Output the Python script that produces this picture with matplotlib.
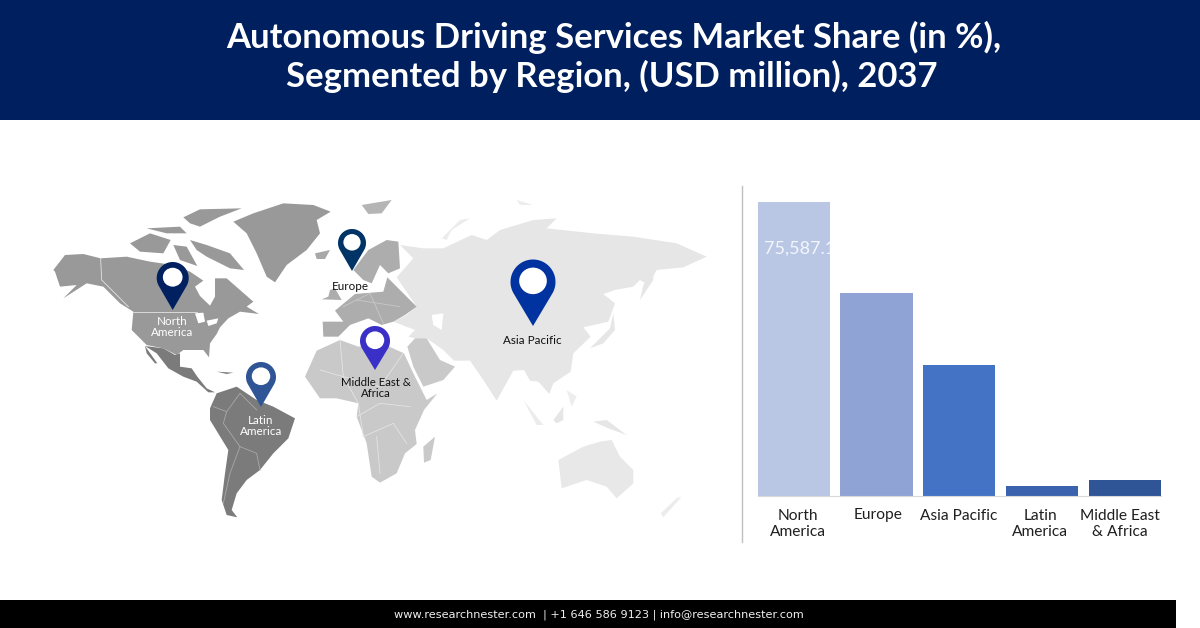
import numpy as np
import matplotlib
matplotlib.use("Agg")
import matplotlib.pyplot as plt
from matplotlib.patches import Polygon, Rectangle, Ellipse
from matplotlib.transforms import ScaledTranslation

plt.rcParams['font.family'] = ['Lato', 'DejaVu Sans']

# ---- data ----
regions = ["North\nAmerica", "Europe", "Asia Pacific", "Latin\nAmerica", "Middle East\n& Africa"]
values = [75587.11, 52190, 33680, 2570, 4110]
bar_colors = ["#b9c6e4", "#8fa3d4", "#4472c4", "#3a62ae", "#2f5597"]
data_label = "75,587.11"
title_line1 = "Autonomous Driving Services Market Share (in %),"
title_line2 = "Segmented by Region, (USD million), 2037"
footer = "www.researchnester.com  | +1 646 586 9123 | info@researchnester.com"

fig = plt.figure(figsize=(12, 6.28), dpi=100, facecolor="white")
bg = fig.add_axes([0, 0, 1, 1], zorder=0)
bg.set_xlim(0, 1200); bg.set_ylim(628, 0); bg.axis("off")

# header and footer
bg.add_patch(Rectangle((0, 0), 1200, 120, color="#001f5f", lw=0))
bg.add_patch(Rectangle((0, 600), 1176, 28, color="#000000", lw=0))
bg.text(614, 37, title_line1, color="white", fontsize=24.9, fontweight="bold", ha="center", va="center")
bg.text(611.5, 76, title_line2, color="white", fontsize=24.9, fontweight="bold", ha="center", va="center")
bg.text(599, 614.5, footer, color="#f0f0f0", fontsize=8.15, family="DejaVu Sans", ha="center", va="center")

# ---- decorative map (outline traced in crop coordinates) ----
def west(pts):
    return [(40 + x / 3, 190 + y / 3) for x, y in pts]
def east(pts):
    return [(300 + x / 3, 190 + y / 3) for x, y in pts]
def shape(pts, color, z=1):
    bg.add_patch(Polygon(pts, closed=True, fc=color, ec="none", zorder=z))
def border(pts, z=2, lw=0.6, color="#e4e4e4"):
    a = np.array(pts)
    bg.plot(a[:, 0], a[:, 1], color=color, lw=lw, zorder=z)

NA = "#999999"; LA = "#7b7b7b"; EU = "#adadad"; AF = "#c9c9c9"; AS = "#e6e6e6"

shape(east([(290,262),(340,205),(300,165),(370,175),(430,175),(515,135),(560,150),(600,120),(700,90),(770,85),(740,115),(880,130),(1000,140),(1130,160),(1220,200),(1150,232),(1070,240),(1045,285),(1020,270),(1000,290),(945,300),(910,312),(945,340),(925,395),(850,412),(872,440),(820,490),(812,545),(760,580),(748,612),(715,575),(690,572),(672,540),(640,542),(590,632),(550,570),(510,512),(462,512),(430,480),(380,445),(345,445),(325,440),(345,420),(280,395),(320,375),(350,350)]), AS)
shape(east([(425,145),(480,90),(510,85),(455,120),(440,150)]), "#ececec")
shape(east([(1020,330),(1030,285),(1060,245),(1060,270)]), AS)
shape(east([(870,475),(900,445),(930,415),(940,370),(945,420),(910,460)]), AS)
shape(east([(650,30),(700,45),(660,45)]), "#ededed")
shape(east([(760,690),(790,650),(790,690),(770,700)]), AS)
shape(east([(670,630),(730,705),(710,705)]), "#ececec")
shape(east([(880,695),(920,690),(980,735),(925,715)]), AS)
shape(east([(800,600),(830,620),(815,650)]), "#ededed")
shape(east([(775,810),(850,770),(900,755),(935,750),(960,800),(1000,840),(1000,880),(950,925),(920,890),(860,870),(785,895)]), "#e8e8e8")
shape(east([(1145,920),(1090,982),(1082,970),(1130,925)]), "#ececec")
shape(east([(395,375),(430,370),(425,420),(400,405)]), "white", 2)

shape(east([(68,395),(130,395),(105,362),(165,312),(250,305),(262,262),(292,292),(350,350),(315,375),(280,395),(245,405),(205,385),(150,405),(115,440),(70,440)]), EU)
shape(east([(160,240),(205,180),(260,150),(295,155),(300,235),(265,250),(240,225),(215,280),(190,270)]), EU)
shape(east([(90,300),(105,295),(125,330),(65,328),(85,320)]), EU)
shape(east([(185,45),(275,30),(245,70),(205,72)]), "#b5b5b5")
shape(east([(45,190),(90,180),(75,207),(50,207)]), "#a8a8a8")

shape(east([(15,560),(50,482),(120,450),(175,470),(250,462),(312,490),(340,550),(380,630),(412,610),(372,660),(345,720),(350,762),(315,790),(290,850),(240,878),(215,860),(200,760),(170,680),(175,640),(110,625),(60,625)]), AF)
shape(east([(322,470),(345,445),(380,445),(420,510),(465,530),(430,570),(370,590),(340,530)]), AF)
shape(east([(405,740),(392,810),(372,818),(370,770)]), AF)

shape(west([(40,240),(75,195),(130,192),(182,205),(260,200),(330,215),(400,225),(450,245),(490,272),(465,290),(480,318),(510,347),(525,320),(525,265),(560,265),(600,300),(640,335),(620,350),(657,372),(600,365),(565,385),(540,412),(530,432),(510,460),(507,502),(490,480),(430,480),(410,495),(370,475),(320,465),(275,420),(280,365),(240,340),(190,290),(140,280),(70,325),(110,285),(60,290),(45,245)]), NA)
shape(west([(580,95),(640,70),(730,40),(820,45),(872,65),(830,90),(840,130),(800,180),(740,225),(705,277),(680,260),(650,190),(620,130)]), NA)
shape(west([(430,82),(480,58),(605,55),(540,80),(480,110),(450,100)]), NA)
shape(west([(270,160),(330,130),(392,150),(370,190),(300,185)]), NA)
shape(west([(450,150),(500,165),(570,190),(612,240),(570,235),(500,200),(470,180)]), NA)
shape(west([(320,115),(420,110),(440,130),(380,130)]), NA)
shape(west([(400,165),(440,170),(472,228),(420,210)]), NA)
shape(west([(465,370),(490,368),(495,395),(475,400)]), "white", 2)
shape(west([(500,392),(535,385),(530,400),(505,408)]), "white", 2)
shape(west([(315,468),(370,475),(405,495),(420,490),(420,530),(455,535),(472,560),(500,595),(525,607),(505,607),(470,575),(430,560),(385,535),(350,490)]), LA)
shape(west([(315,468),(352,520),(345,520),(320,490)]), LA)
shape(west([(510,655),(530,610),(590,590),(650,630),(700,650),(765,685),(745,745),(700,790),(660,840),(620,870),(590,910),(575,960),(592,982),(560,975),(545,930),(555,850),(565,780),(510,690)]), LA)
shape(west([(530,545),(580,548),(560,552)]), LA)

border(west([(182,205),(185,270),(265,350)]))
border(west([(280,365),(470,365)]))
border(west([(520,650),(560,665),(550,700),(600,770),(570,850),(550,940)]), color="#a9a9a9")
border(west([(560,665),(600,610),(650,660)]), color="#a9a9a9")
border(west([(600,770),(650,790),(660,840)]), color="#a9a9a9")
border(east([(170,680),(240,640),(330,650)]))
border(east([(60,540),(130,560),(175,640),(190,740),(280,700),(320,760)]))
border(east([(120,450),(130,560),(240,590),(310,490)]))
border(east([(230,740),(240,850)]))
border(east([(130,350),(210,310),(250,400)]), color="#c8c8c8")
border(east([(170,330),(300,350)]), color="#c8c8c8")

# ---- pins ----
def pin(cx, cy, r, tip, color):
    a = np.arcsin(r / (tip - cy))
    angles = np.linspace(-a, np.pi + a, 90)
    px = np.r_[cx + r * np.cos(angles), cx]
    py = np.r_[cy - r * np.sin(angles), tip]
    bg.add_patch(Polygon(np.c_[px, py], closed=True, fc=color, ec="none", zorder=5))
    bg.add_patch(Ellipse((cx, cy - 0.05 * r), 1.23 * r, 1.18 * r, fc="white", ec="none", zorder=6))

pin(172.7, 278, 16, 310, "#00205f")
pin(352, 243, 14, 271, "#003366")
pin(261, 377, 15, 407, "#2f5597")
pin(375, 341, 15, 370, "#3a30c8")
pin(533, 282, 22.5, 326, "#0033a0")

def pin_label(x, y, s, color, size=8.4):
    bg.text(x, y, s, color=color, fontsize=size, ha="center", va="center", linespacing=1.0, zorder=7)

pin_label(172, 327, "North\nAmerica", "white")
pin_label(350, 286, "Europe", "#111111")
pin_label(261, 426, "Latin\nAmerica", "white")
pin_label(375.5, 388, "Middle East &\nAfrica", "#111111", 8.2)
pin_label(532, 341, "Asia Pacific", "#111111")

# separator next to the bars
bg.plot([741.5, 741.5], [186, 542], color="#bfbfbf", lw=1, zorder=1)

# ---- bar chart ----
ax = fig.add_axes([757.5 / 1200, (628 - 496) / 628, 403.5 / 1200, 294 / 628], zorder=2)
ax.patch.set_alpha(0)
x = np.arange(len(regions))
bars = ax.bar(x, values, width=0.876, color=bar_colors, linewidth=0)
ax.set_xlim(-0.438, 4.438)
ax.set_ylim(0, values[0])
for s in ("top", "left", "right"):
    ax.spines[s].set_visible(False)
ax.spines["bottom"].set_color("#d9d9d9")
ax.spines["bottom"].set_linewidth(0.8)
ax.set_yticks([])
ax.set_xticks(x)
ax.set_xticklabels(regions, fontsize=11.2, color="#1f1f1f", linespacing=1.25)
ax.tick_params(axis="x", length=0, pad=9)
label_nudge_px = [4, 2, -1, -2, -5]
for lab, dx in zip(ax.get_xticklabels(), label_nudge_px):
    lab.set_transform(lab.get_transform() + ScaledTranslation(dx / 100, 0, fig.dpi_scale_trans))

txt = ax.text(-0.36, values[0] * 0.84, data_label, color="#f3f6fc", fontsize=13, ha="left", va="center", clip_on=True)
txt.set_clip_path(bars[0])

fig.savefig("out.png", dpi=100, facecolor="white")
